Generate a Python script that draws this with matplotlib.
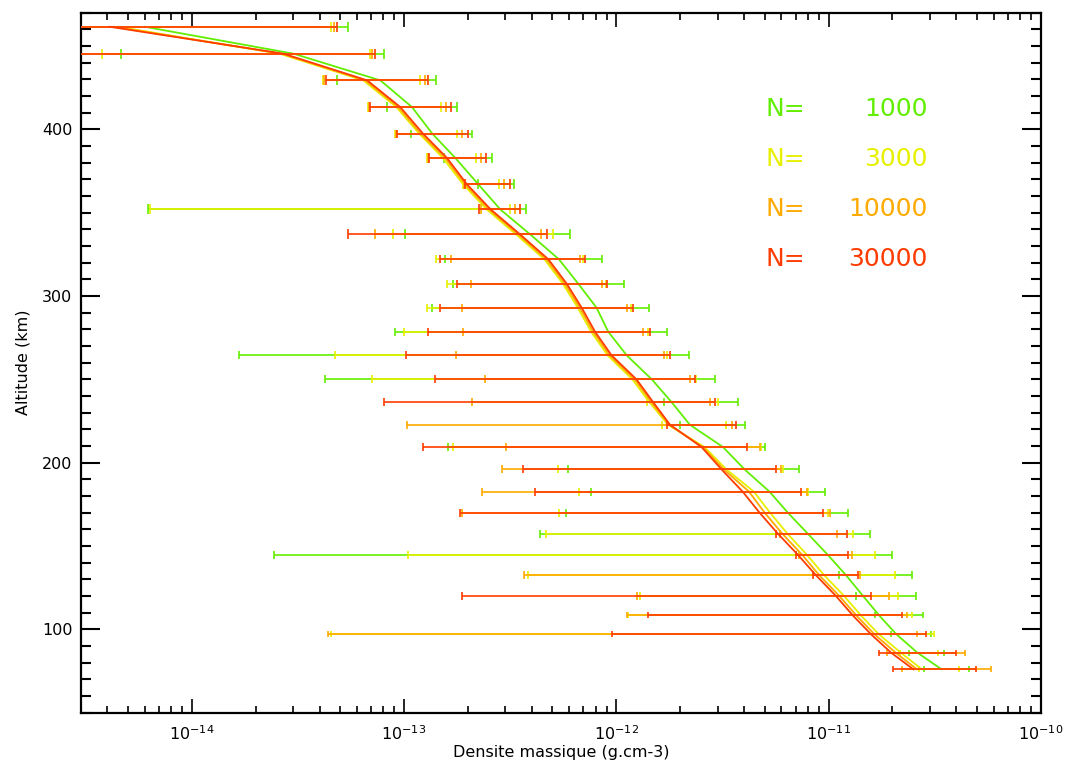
#!/usr/bin/env python3
# -*- coding: utf-8 -*-
"""
Profils de densite massique pour plusieurs tailles d'echantillon N.
"""

import numpy
import matplotlib
matplotlib.use('Agg')
import matplotlib.pyplot as PyPlot
from matplotlib.ticker import FixedLocator, MultipleLocator


# Altitudes des niveaux (km)
altitude = [461.6, 445.4, 429.4, 413.4, 397.4, 383.0, 367.0, 352.0, 337.0,
            322.0, 307.4, 293.0, 278.6, 264.4, 250.0, 236.4, 222.8, 209.4,
            196.0, 182.6, 170.0, 157.4, 144.8, 132.4, 120.2, 108.4, 97.2,
            86.0, 76.0]

labels = ['1000', '3000', '10000', '30000']

# Profils moyens (g.cm-3)
rho_1000 = [6.0e-15, 3.02e-14, 7.74e-14, 1.09e-13, 1.36e-13, 1.74e-13,
            2.24e-13, 2.84e-13, 3.93e-13, 5.37e-13, 6.62e-13, 8.07e-13,
            9.16e-13, 1.12e-12, 1.47e-12, 1.82e-12, 2.22e-12, 3.18e-12,
            4.02e-12, 5.27e-12, 6.43e-12, 7.98e-12, 9.9e-12, 1.21e-11,
            1.45e-11, 1.73e-11, 2.08e-11, 2.62e-11, 3.41e-11]
rho_3000 = [4.5e-15, 2.60e-14, 6.43e-14, 9.2e-14, 1.18e-13, 1.52e-13,
            1.90e-13, 2.45e-13, 3.37e-13, 4.59e-13, 5.60e-13, 6.58e-13,
            7.61e-13, 9.10e-13, 1.19e-12, 1.43e-12, 1.75e-12, 2.60e-12,
            3.30e-12, 4.45e-12, 5.30e-12, 6.40e-12, 7.90e-12, 9.55e-12,
            1.18e-11, 1.42e-11, 1.72e-11, 2.19e-11, 2.75e-11]
rho_10000 = [4.3e-15, 2.65e-14, 6.57e-14, 9.4e-14, 1.20e-13, 1.56e-13,
             1.94e-13, 2.51e-13, 3.45e-13, 4.69e-13, 5.72e-13, 6.73e-13,
             7.78e-13, 9.30e-13, 1.22e-12, 1.46e-12, 1.77e-12, 2.56e-12,
             3.21e-12, 4.22e-12, 5.00e-12, 6.05e-12, 7.50e-12, 9.05e-12,
             1.12e-11, 1.35e-11, 1.64e-11, 2.07e-11, 2.61e-11]
rho_30000 = [4.1e-15, 2.71e-14, 6.71e-14, 9.6e-14, 1.23e-13, 1.59e-13,
             1.98e-13, 2.56e-13, 3.52e-13, 4.79e-13, 5.84e-13, 6.87e-13,
             7.94e-13, 9.5e-13, 1.245e-12, 1.49e-12, 1.79e-12, 2.52e-12,
             3.13e-12, 3.94e-12, 4.73e-12, 5.77e-12, 7.16e-12, 8.73e-12,
             1.08e-11, 1.30e-11, 1.58e-11, 1.97e-11, 2.51e-11]

# Bornes inferieures des barres d'erreur
low_1000 = [1.5e-15, 4.65e-15, 4.81e-14, 8.33e-14, 1.083e-13, 1.54e-13,
            2.24e-13, 6.25e-15, 1.015e-13, 1.56e-13, 1.71e-13, 1.36e-13,
            9.04e-14, 1.67e-14, 4.23e-14, 1.68e-12, 1.99e-12, 1.62e-13,
            5.94e-13, 7.57e-13, 5.78e-13, 4.38e-13, 2.43e-14, 1.115e-11,
            1.35e-11, 1.65e-11, 1.97e-11, 2.40e-11, 2.82e-11]
low_3000 = [1.5e-15, 3.77e-15, 4.15e-14, 6.80e-14, 9.1e-14, 1.29e-13,
            1.90e-13, 6.38e-15, 8.85e-14, 1.42e-13, 1.59e-13, 1.28e-13,
            9.97e-14, 4.71e-14, 7.03e-14, 1.39e-12, 1.65e-12, 1.71e-13,
            5.33e-13, 6.70e-13, 5.39e-13, 4.65e-13, 1.04e-13, 3.84e-13,
            1.29e-12, 1.13e-12, 4.51e-14, 2.17e-11, 2.67e-11]
low_10000 = [1.5e-15, 2.0e-15, 4.21e-14, 6.85e-14, 9.2e-14, 1.30e-13,
             1.91e-13, 2.30e-13, 7.26e-14, 1.66e-13, 2.07e-13, 1.87e-13,
             1.89e-13, 1.76e-13, 2.41e-13, 2.09e-13, 1.032e-13, 3.02e-13,
             2.89e-13, 2.34e-13, 1.87e-13, 5.92e-12, 7.29e-12, 3.68e-13,
             1.245e-12, 1.12e-12, 4.40e-14, 1.88e-11, 2.21e-11]
low_30000 = [1.5e-15, 2.0e-15, 4.27e-14, 6.90e-14, 9.3e-14, 1.31e-13,
             1.94e-13, 2.26e-13, 5.46e-14, 1.47e-13, 1.78e-13, 1.48e-13,
             1.30e-13, 1.023e-13, 1.405e-13, 8.09e-14, 1.74e-12, 1.225e-13,
             3.63e-13, 4.15e-13, 1.84e-13, 5.67e-12, 7.04e-12, 8.42e-12,
             1.87e-13, 1.41e-12, 9.56e-13, 1.72e-11, 2.02e-11]

# Bornes superieures des barres d'erreur
high_1000 = [5.42e-14, 8.03e-14, 1.42e-13, 1.78e-13, 2.10e-13, 2.59e-13,
             3.31e-13, 3.76e-13, 6.05e-13, 8.58e-13, 1.09e-12, 1.43e-12,
             1.73e-12, 2.20e-12, 2.93e-12, 3.74e-12, 4.05e-12, 5.03e-12,
             7.24e-12, 9.63e-12, 1.23e-11, 1.57e-11, 1.99e-11, 2.48e-11,
             2.58e-11, 2.77e-11, 3.04e-11, 3.50e-11, 4.59e-11]
high_3000 = [4.51e-14, 6.90e-14, 1.19e-13, 1.50e-13, 1.78e-13, 2.18e-13,
             2.79e-13, 3.16e-13, 5.05e-13, 6.97e-13, 8.9e-13, 1.17e-12,
             1.41e-12, 1.73e-12, 2.37e-12, 3.01e-12, 3.27e-12, 4.83e-12,
             6.13e-12, 8.04e-12, 9.9e-12, 1.31e-11, 1.65e-11, 2.05e-11,
             2.13e-11, 2.46e-11, 3.14e-11, 3.29e-11, 4.12e-11]
high_10000 = [4.66e-14, 7.08e-14, 1.25e-13, 1.58e-13, 1.87e-13, 2.30e-13,
              2.96e-13, 3.34e-13, 4.41e-13, 6.74e-13, 8.60e-13, 1.125e-12,
              1.33e-12, 1.68e-12, 2.22e-12, 2.75e-12, 3.50e-12, 4.76e-12,
              5.98e-12, 7.93e-12, 1.02e-11, 1.10e-11, 1.29e-11, 1.41e-11,
              1.92e-11, 2.34e-11, 2.62e-11, 4.40e-11, 5.80e-11]
high_30000 = [4.81e-14, 7.26e-14, 1.30e-13, 1.66e-13, 2.00e-13, 2.44e-13,
              3.14e-13, 3.52e-13, 4.70e-13, 7.12e-13, 9.06e-13, 1.20e-12,
              1.44e-12, 1.79e-12, 2.34e-12, 2.91e-12, 3.65e-12, 4.12e-12,
              5.67e-12, 7.43e-12, 9.45e-12, 1.22e-11, 1.23e-11, 1.37e-11,
              1.59e-11, 2.21e-11, 2.87e-11, 3.97e-11, 4.97e-11]

colors = ['#62EE00', '#E6F000', '#FFAA00', '#FF3C00']

# Graduations de l'axe X
xMajor = [1e-14, 1e-13, 1e-12, 1e-11, 1e-10]

rhos = [rho_1000, rho_3000, rho_10000, rho_30000]
lows = [low_1000, low_3000, low_10000, low_30000]
highs = [high_1000, high_3000, high_10000, high_30000]


figure = PyPlot.figure(figsize = (10.68, 7.67), dpi = 100)
axes = figure.add_axes([0.0756, 0.0708, 0.899, 0.9126])

alt = numpy.array(altitude)
gaps = numpy.abs(numpy.diff(alt))
gaps = numpy.append(gaps, gaps[-1])

for rho, low, high, color in zip(rhos, lows, highs, colors):
    rho = numpy.array(rho)
    errLeft = rho - numpy.array(low)
    errRight = numpy.array(high) - rho
    # Profil moyen
    axes.plot(rho, alt, color = color, linewidth = 1.3, zorder = 3)
    # Barres d'erreur, cap proportionnel a l'espacement des niveaux
    for i in range(len(alt)):
        axes.errorbar(rho[i], alt[i], xerr = [[errLeft[i]], [errRight[i]]],
                      fmt = 'none', ecolor = color, elinewidth = 1.2,
                      capsize = 0.22 * gaps[i], capthick = 1.2, zorder = 3)

axes.set_xscale('log')
axes.set_xlim(3e-15, 1e-10)
axes.set_ylim(50, 470)

# Mineures : 2..9 x chaque decade visible
xMinor = [m * d for d in [1e-15, 1e-14, 1e-13, 1e-12, 1e-11]
          for m in range(2, 10) if 3e-15 <= m * d <= 1e-10]
axes.xaxis.set_major_locator(FixedLocator(xMajor))
axes.xaxis.set_minor_locator(FixedLocator(xMinor))
axes.yaxis.set_major_locator(MultipleLocator(100))
axes.yaxis.set_minor_locator(MultipleLocator(10))

axes.tick_params(axis = 'x', which = 'major', direction = 'in', length = 10,
                 width = 1.2, top = True, labelsize = 11.5, pad = 8)
axes.tick_params(axis = 'x', which = 'minor', direction = 'in', length = 5,
                 width = 1.2, top = True, labelbottom = False)
axes.tick_params(axis = 'y', which = 'major', direction = 'in', length = 13.5,
                 width = 1.5, right = True, labelsize = 11.5, pad = 6)
axes.tick_params(axis = 'y', which = 'minor', direction = 'in', length = 7,
                 width = 1.5, right = True)
for spine in axes.spines.values():
    spine.set_linewidth(1.6)

axes.set_xlabel('Densite massique (g.cm-3)', fontsize = 11.5, labelpad = 2)
axes.set_ylabel('Altitude (km)', fontsize = 11.5, labelpad = 8)

# Legende manuelle
for k, (label, color) in enumerate(zip(labels, colors)):
    yText = 0.8627 - k * 0.0714
    axes.text(0.713, yText, 'N=', color = color, fontsize = 18,
              transform = axes.transAxes, ha = 'left', va = 'center')
    axes.text(0.882, yText, label, color = color, fontsize = 18,
              transform = axes.transAxes, ha = 'right', va = 'center')

figure.savefig('out.png', format = 'png')
